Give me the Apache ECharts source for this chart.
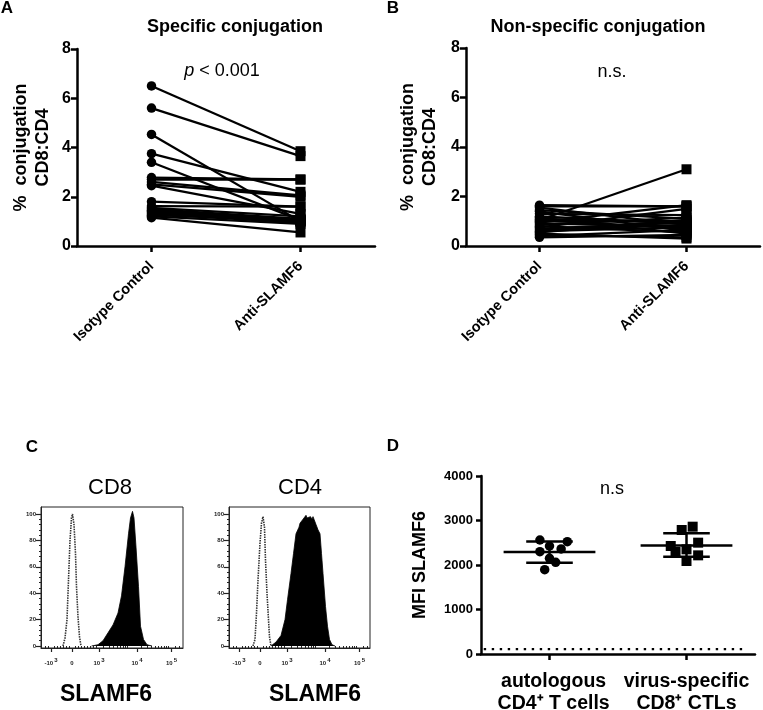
<!DOCTYPE html>
<html><head><meta charset="utf-8">
<style>html,body{margin:0;padding:0;background:#fff}#c{width:763px;height:710px}</style>
<script src="https://cdn.jsdelivr.net/npm/echarts@6/dist/echarts.min.js"></script>
</head><body><div id="c"></div>
<script>
const pairCategories = ['Isotype Control', 'Anti-SLAMF6'];
const specificIsotype = [6.5,5.6,4.53,3.75,3.4,2.78,2.7,2.6,2.5,2.45,1.8,1.62,1.55,1.5,1.45,1.4,1.35,1.3,1.25,1.2,1.15];
const specificAnti    = [3.85,3.65,1.0,2.2,1.05,2.7,2.7,2.05,2.0,1.3,1.6,1.6,1.2,1.1,1.05,1.0,1.0,0.95,1.05,0.9,0.55];
const nonspecificIsotype = [1.65,1.6,1.55,1.45,1.4,1.3,1.2,1.15,1.1,1.05,1.05,1.0,0.95,0.9,0.85,0.8,0.75,0.7,0.65,0.6,0.55,0.5,0.45,0.4,0.35];
const nonspecificAnti    = [1.6,1.6,0.85,1.1,0.6,1.25,0.9,0.5,0.95,3.1,0.7,1.0,1.65,0.8,1.15,0.55,1.5,0.95,0.85,0.75,1.05,0.3,0.35,0.65,0.45];

const cd8Isotype = [[22,0],[24,6],[26,20],[27.5,50],[29,80],[30.5,97],[31.5,100],[33,92],[34.5,70],[35.5,45],[37,22],[38.5,7],[40,0]];
const cd8Slamf6 = [[50.5,0],[57,1],[62,4],[67,10],[72,16],[77,25],[80.5,38],[84,60],[87.5,85],[89.5,97],[91.5,102],[93,97],[95,75],[97.5,45],[99.5,15],[102.5,5],[106,1],[111,0]];
const cd4Isotype = [[24,0],[26,5],[27.5,25],[29,50],[31,78],[32.5,93],[34,98],[35.5,90],[36.5,65],[38,40],[39.5,20],[40.5,7],[42,0]];
const cd4Slamf6 = [[42,0],[47,3],[52,8],[56,20],[58.5,35],[62,55],[64.5,70],[67,85],[70,90],[71,93],[73,94],[75,97],[76,96],[77,99],[78,97],[79,98],[80,96],[81.5,98],[83,96],[84,98],[85,96],[87,92],[89,88],[91,85],[92.5,70],[94,55],[96.5,30],[98.5,15],[100.5,5],[103,1],[106,0]];
const histMajorY = [0,20,40,60,80,100];
const histMinorY = [4,8,12,16,24,28,32,36,44,48,52,56,64,68,72,76,84,88,92,96];
const histMajorX = [10,31,58,96,130.5];
const histMinorX = [4,7,13,16,19,22,25,28,34,37,40,43,46,49,52,55,62,68,72,76,79,82,84,86,100,106,110,114,117,120,123,125,127,134,138];
const histLabelsX = ['-10^3','0','10^3','10^4','10^5'];

const mfiCategories = ['autologous\nCD4⁺ T cells', 'virus-specific\nCD8⁺ CTLs'];
const cd4MfiX = [0.93,1.13,1.0,1.085,0.93,1.0,1.045,0.965];
const cd4Mfi = [2562,2524,2427,2360,2300,2150,2060,1895];
const cd8MfiX = [2.045,1.965,2.085,1.885,2.0,1.92,2.085,2.0];
const cd8Mfi = [2861,2786,2502,2427,2352,2292,2217,2090];
const mfiMean = [2290,2440];
const mfiUpper = [2530,2712];
const mfiLower = [2050,2187];
const isotypeBackground = 110;

const font = 'Liberation Sans, Arial, sans-serif';
const black = '#000';

function text(t, x, y, size, weight, extra) {
  return Object.assign({
    text: t, left: x, top: y, textAlign: 'center', textVerticalAlign: 'middle', padding: 0,
    textStyle: Object.assign({fontFamily: font, fontSize: size, fontWeight: weight, color: black}, extra || {})
  });
}
const titles = [
  text('A', 7, 8, 17, 'bold'),
  text('B', 393, 8, 17, 'bold'),
  text('C', 32, 447, 17, 'bold'),
  text('D', 393, 446, 17, 'bold'),
  text('Specific conjugation', 235, 27, 18, 'bold'),
  text('Non-specific conjugation', 598, 27, 18, 'bold'),
  text('{i|p} < 0.001', 222, 71, 18, 'normal', {rich: {i: {fontStyle: 'italic', fontFamily: font, fontSize: 18, color: black}}}),
  text('n.s.', 612, 72, 18, 'normal'),
  text('n.s', 612, 489, 18, 'normal'),
  text('CD8', 110, 488, 22, 'normal'),
  text('CD4', 300, 488, 22, 'normal'),
  text('SLAMF6', 106, 695, 23, 'bold'),
  text('SLAMF6', 315, 695, 23, 'bold')
];

const grids = [
  {left: 77, top: 49, width: 298, height: 197, outerBoundsMode: 'none'},
  {left: 466, top: 48, width: 294, height: 198, outerBoundsMode: 'none'},
  {left: 41, top: 507, width: 142, height: 141, show: true, borderColor: '#222', borderWidth: 1, outerBoundsMode: 'none'},
  {left: 229, top: 507, width: 141, height: 141, show: true, borderColor: '#222', borderWidth: 1, outerBoundsMode: 'none'},
  {left: 481, top: 476, width: 274, height: 178, outerBoundsMode: 'none'}
];

const thick = {show: true, lineStyle: {color: black, width: 2.5}};
const pairX = (g) => ({
  type: 'category', gridIndex: g, data: pairCategories, boundaryGap: true,
  axisLine: thick, axisTick: {show: true, alignWithLabel: true, length: 6, lineStyle: {color: black, width: 2.5}},
  axisLabel: {rotate: 45, interval: 0, margin: 18, fontFamily: font, fontWeight: 'bold', fontSize: 14.5, color: black}
});
const pairY = (g, gap) => ({
  type: 'value', gridIndex: g, min: 0, max: 8, interval: 2, splitLine: {show: false},
  axisLine: thick, axisTick: {show: true, length: 6, lineStyle: {color: black, width: 2.5}},
  axisLabel: {margin: 6, fontFamily: font, fontWeight: 'bold', fontSize: 16, color: black},
  name: '%  conjugation\nCD8:CD4', nameLocation: 'middle', nameRotate: 90, nameGap: gap,
  nameTextStyle: {fontFamily: font, fontWeight: 'bold', fontSize: 18, lineHeight: 22, color: black}
});
const thin = {show: true, onZero: false, lineStyle: {color: '#222', width: 1}};
const histRich = {
  s: {fontFamily: font, fontSize: 6, color: '#222', fontWeight: 'bold', verticalAlign: 'bottom'},
  u: {fontFamily: font, fontSize: 6, color: '#222', fontWeight: 'bold', lineHeight: 6, padding: [0, 0, 6, 1]}
};
function histLabel(v) {
  const i = histMajorX.indexOf(v);
  const parts = histLabelsX[i].split('^');
  return parts.length > 1 ? '{s|' + parts[0] + '}{u|' + parts[1] + '}' : '{s|' + parts[0] + '}';
}
const histX = (g) => ({
  type: 'value', gridIndex: g, min: 0, max: g === 2 ? 142 : 141, splitLine: {show: false},
  axisLine: thin, axisTick: {show: true, customValues: histMajorX, length: 4, lineStyle: {color: '#222', width: 1.2}},
  axisLabel: {show: true, customValues: histMajorX, formatter: histLabel, rich: histRich, margin: 12, color: '#222', hideOverlap: false}
});
const histXMinor = (g) => ({
  type: 'value', gridIndex: g, min: 0, max: g === 2 ? 142 : 141, position: 'bottom', splitLine: {show: false},
  axisLine: {show: false}, axisLabel: {show: false},
  axisTick: {show: true, customValues: histMinorX, length: 2, lineStyle: {color: '#222', width: 1}}
});
const histY = (g) => ({
  type: 'value', gridIndex: g, min: -1.5, max: 105.3, splitLine: {show: false},
  axisLine: thin, axisTick: {show: true, customValues: histMajorY, length: 5, lineStyle: {color: '#222', width: 1.2}},
  axisLabel: {show: true, customValues: histMajorY, margin: 5, fontFamily: font, fontSize: 6, fontWeight: 'bold', color: '#222'}
});
const histYMinor = (g) => ({
  type: 'value', gridIndex: g, min: -1.5, max: 105.3, position: 'left', splitLine: {show: false},
  axisLine: {show: false}, axisLabel: {show: false},
  axisTick: {show: true, customValues: histMinorY, length: 2, lineStyle: {color: '#222', width: 1}}
});

const mfiLabelAt = [1.03, 2.0];
const xAxes = [
  pairX(0), pairX(1),
  histX(2), histXMinor(2), histX(3), histXMinor(3),
  {
    type: 'value', gridIndex: 4, min: 0.5, max: 2.5, splitLine: {show: false},
    axisLine: thick, axisTick: {show: true, customValues: [1, 2], length: 6, lineStyle: {color: black, width: 2.5}},
    axisLabel: {show: true, customValues: mfiLabelAt, margin: 17, hideOverlap: false,
      formatter: (v) => mfiCategories[mfiLabelAt.indexOf(v)],
      fontFamily: font, fontWeight: 'bold', fontSize: 19.5, lineHeight: 22, color: black}
  }
];
const yAxes = [
  pairY(0, 22.5), pairY(1, 25),
  histY(2), histYMinor(2), histY(3), histYMinor(3),
  {
    type: 'value', gridIndex: 4, min: 0, max: 4000, interval: 1000, splitLine: {show: false},
    axisLine: thick, axisTick: {show: true, length: 5, lineStyle: {color: black, width: 2.5}},
    axisLabel: {margin: 8, formatter: (v) => String(v), fontFamily: font, fontWeight: 'bold', fontSize: 13, color: black},
    name: 'MFI SLAMF6', nameLocation: 'middle', nameRotate: 90, nameGap: 52,
    nameTextStyle: {fontFamily: font, fontWeight: 'bold', fontSize: 18, color: black}
  }
];

const series = [];
function addPairs(axis, left, right) {
  left.forEach((v, i) => series.push({
    type: 'line', xAxisIndex: axis, yAxisIndex: axis, silent: true,
    data: [{value: v, symbol: 'circle', symbolSize: 9.5}, {value: right[i], symbol: 'rect', symbolSize: 10}],
    showSymbol: true, showAllSymbol: true, clip: false,
    lineStyle: {color: black, width: 2.3}, itemStyle: {color: black}
  }));
}
addPairs(0, specificIsotype, specificAnti);
addPairs(1, nonspecificIsotype, nonspecificAnti);

function addHist(xIdx, yIdx, fill, dotted) {
  series.push({type: 'line', xAxisIndex: xIdx, yAxisIndex: yIdx, data: fill, symbol: 'none', silent: true,
    lineStyle: {color: black, width: 0.8}, areaStyle: {color: black, opacity: 1}});
  series.push({type: 'line', xAxisIndex: xIdx, yAxisIndex: yIdx, data: dotted, symbol: 'none', silent: true,
    lineStyle: {color: '#333', width: 1.6, type: [1.5, 1]}});
}
addHist(2, 2, cd8Slamf6, cd8Isotype);
addHist(4, 4, cd4Slamf6, cd4Isotype);

const mfiIdx = 6;
function seg(a, b) {
  series.push({type: 'line', xAxisIndex: mfiIdx, yAxisIndex: mfiIdx, data: [a, b], symbol: 'none', silent: true,
    lineStyle: {color: black, width: 2.5}});
}
const meanHalf = 0.335, errHalf = 0.17;
[1, 2].forEach((c, i) => {
  seg([c - meanHalf, mfiMean[i]], [c + meanHalf, mfiMean[i]]);
  seg([c - errHalf, mfiUpper[i]], [c + errHalf, mfiUpper[i]]);
  seg([c - errHalf, mfiLower[i]], [c + errHalf, mfiLower[i]]);
  seg([c, mfiLower[i]], [c, mfiUpper[i]]);
});
series.push({type: 'scatter', xAxisIndex: mfiIdx, yAxisIndex: mfiIdx, symbol: 'circle', symbolSize: 9.5, silent: true,
  itemStyle: {color: black, opacity: 1}, data: cd4Mfi.map((v, i) => [cd4MfiX[i], v])});
series.push({type: 'scatter', xAxisIndex: mfiIdx, yAxisIndex: mfiIdx, symbol: 'rect', symbolSize: 10, silent: true,
  itemStyle: {color: black, opacity: 1}, data: cd8Mfi.map((v, i) => [cd8MfiX[i], v])});
series.push({type: 'line', xAxisIndex: mfiIdx, yAxisIndex: mfiIdx, symbol: 'none', silent: true,
  data: [[0.52, isotypeBackground], [2.44, isotypeBackground]],
  lineStyle: {color: black, width: 2.4, type: [2.4, 5.6]}});

const chart = echarts.init(document.getElementById('c'), null, {renderer: 'canvas'});
chart.setOption({
  animation: false, backgroundColor: '#fff',
  title: titles, grid: grids, xAxis: xAxes, yAxis: yAxes, series: series
});
</script></body></html>
